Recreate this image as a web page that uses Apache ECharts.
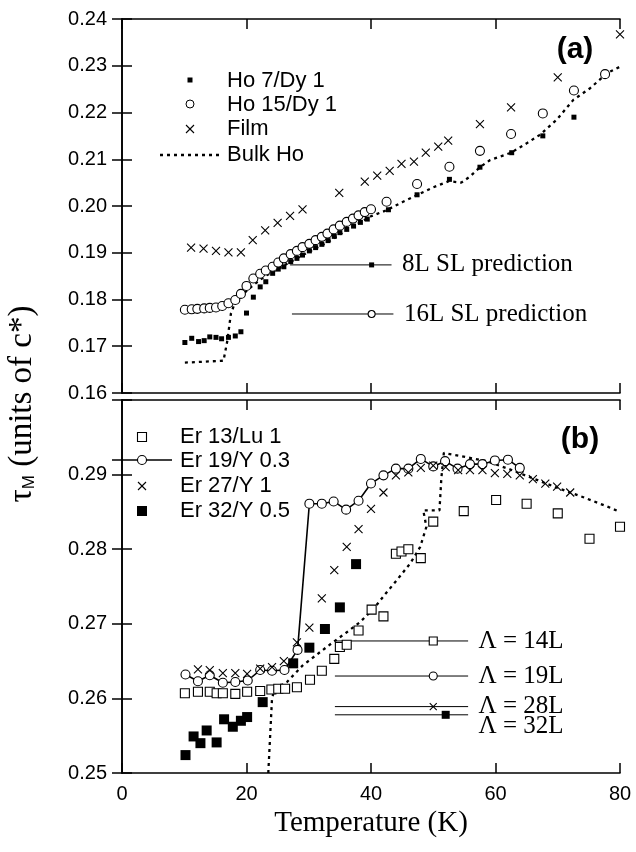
<!DOCTYPE html>
<html><head><meta charset="utf-8">
<script src="https://cdn.jsdelivr.net/npm/echarts@6/dist/echarts.min.js"></script>
<style>html,body{margin:0;padding:0;background:#fff}#c{width:636px;height:852px}</style>
</head><body><div id="c"></div>
<script>
// ---------- Panel (a) data ----------
const ho7X = [10.1,11.2,12.3,13.2,14.1,15.1,16.0,17.1,18.2,19.1,20.0,21.1,22.2,23.1,24.2,25.1,26.0,27.1,28.1,29.0,30.1,31.1,32.1,33.1,34.1,35.0,36.1,37.2,38.3,39.4,42.8,47.4,52.6,57.5,62.6,67.6,72.6];
const ho7Y = [0.1708,0.1717,0.1710,0.1712,0.1720,0.1719,0.1716,0.1719,0.1722,0.1731,0.1771,0.1805,0.1827,0.1838,0.1856,0.1865,0.1870,0.1881,0.1888,0.1895,0.1904,0.1911,0.1918,0.1926,0.1935,0.1943,0.1950,0.1957,0.1965,0.1972,0.1992,0.2024,0.2057,0.2083,0.2114,0.2150,0.2190];
const ho15X = [10.1,11.2,12.1,13.2,14.1,15.1,16.1,17.1,18.2,19.1,20.0,21.1,22.2,23.1,24.2,25.1,26.0,27.1,28.1,29.0,30.1,31.1,32.1,33.0,34.0,35.0,36.1,37.1,38.0,39.0,40.0,42.5,47.4,52.6,57.5,62.5,67.6,72.6,77.6];
const ho15Y = [0.1778,0.1779,0.1780,0.1781,0.1782,0.1783,0.1786,0.1792,0.1799,0.1812,0.1829,0.1845,0.1855,0.1862,0.1870,0.1879,0.1888,0.1897,0.1904,0.1912,0.1919,0.1927,0.1934,0.1941,0.1950,0.1958,0.1966,0.1973,0.1980,0.1987,0.1993,0.2009,0.2047,0.2084,0.2118,0.2154,0.2198,0.2247,0.2282];
const filmX = [11.1,13.1,15.1,17.1,19.1,21.0,23.0,25.0,27.0,29.0,34.9,39.0,41.0,43.0,44.9,46.9,48.8,50.8,52.4,57.5,62.5,70.0,80.0];
const filmY = [0.1911,0.1909,0.1904,0.1901,0.1901,0.1927,0.1948,0.1964,0.1979,0.1993,0.2028,0.2052,0.2065,0.2075,0.2090,0.2095,0.2114,0.2127,0.2140,0.2175,0.2211,0.2275,0.2367];
const bulkHoX = [10.1,16.3,16.9,17.5,18.2,19.5,21,23,25,27,30,33,36,40,42.5,45,47.5,50,52.5,54.5,55.9,57.5,59.1,62.5,65,67.1,69.8,72.5,75.2,77.9,80];
const bulkHoY = [0.1665,0.1669,0.1710,0.1770,0.1795,0.1812,0.1830,0.1850,0.1865,0.1880,0.1902,0.1922,0.1948,0.1978,0.1991,0.2008,0.2024,0.2040,0.2053,0.2050,0.2063,0.2083,0.2098,0.2114,0.2134,0.2152,0.2184,0.2227,0.2252,0.2284,0.2298];
const pred8LX = [27.0,43.3], pred8LY = 0.1874, pred8LMarkX = 40.1;
const pred16LX = [27.3,43.6], pred16LY = 0.1769, pred16LMarkX = 40.1;

// ---------- Panel (b) data ----------
const er13X = [10.1,12.2,14.1,15.2,16.2,18.2,20.1,22.2,24.0,25.1,26.2,28.1,30.2,32.1,34.1,35.0,36.1,38.0,40.1,42.0,44.0,44.9,46.0,48.0,50.0,54.9,60.1,65.0,70.0,75.1,80.0];
const er13Y = [0.2607,0.2609,0.2609,0.2607,0.2607,0.2606,0.2609,0.2610,0.2612,0.2613,0.2613,0.2615,0.2625,0.2637,0.2653,0.2669,0.2672,0.2691,0.2719,0.2710,0.2794,0.2797,0.2800,0.2788,0.2837,0.2851,0.2866,0.2861,0.2848,0.2814,0.2830];
const er19X = [10.2,12.2,14.1,16.2,18.2,20.2,22.2,24.1,26.1,28.2,30.1,32.1,34.0,36.0,38.0,40.0,42.0,44.0,46.0,48.0,50.0,51.9,53.9,55.9,57.9,59.9,62.0,63.9];
const er19Y = [0.2632,0.2623,0.2631,0.2621,0.2622,0.2624,0.2638,0.2637,0.2638,0.2665,0.2861,0.2861,0.2864,0.2853,0.2865,0.2888,0.2899,0.2908,0.2908,0.2921,0.2911,0.2918,0.2908,0.2914,0.2914,0.2919,0.2920,0.2909];
const er27X = [12.2,14.1,16.2,18.2,20.1,22.2,24.1,26.0,28.1,30.1,32.1,34.1,36.1,38.0,40.0,42.0,44.0,46.0,48.0,50.0,52.0,54.0,55.9,57.9,59.9,61.9,63.9,66.0,68.0,69.9,72.0];
const er27Y = [0.2639,0.2638,0.2634,0.2634,0.2633,0.2640,0.2642,0.2650,0.2675,0.2695,0.2734,0.2772,0.2803,0.2827,0.2854,0.2876,0.2899,0.2903,0.2909,0.2912,0.2910,0.2906,0.2906,0.2906,0.2902,0.2901,0.2899,0.2894,0.2888,0.2884,0.2876];
const er32X = [10.2,11.5,12.6,13.6,15.2,16.4,17.8,19.1,20.1,22.6,27.5,30.1,32.6,35.0,37.6];
const er32Y = [0.2524,0.2549,0.2540,0.2557,0.2541,0.2572,0.2562,0.2570,0.2575,0.2595,0.2647,0.2668,0.2693,0.2722,0.2780];
const bulkErX = [23.5,23.8,24.1,24.5,26.5,29,31.8,34,36,38.2,40.4,42.5,44.1,46.3,47.9,48.9,48.4,51.0,51.3,51.7,54.3,58.6,62,66,70,74,78,80];
const bulkErY = [0.2500,0.2550,0.2600,0.2612,0.2622,0.2644,0.2662,0.2676,0.2688,0.2702,0.2720,0.2742,0.2758,0.2781,0.2803,0.2830,0.2852,0.2852,0.2895,0.2929,0.2925,0.2918,0.2908,0.2895,0.2882,0.2870,0.2857,0.2850];
const lambdaLineX = [34.2,55.6];
const lambdaY = [0.2677,0.2630,0.2589,0.2578];
const lambdaMarkX = [50.0,50.0,50.0,52.0];
const lambdaLabels = ['Λ = 14L','Λ = 19L','Λ = 28L','Λ = 32L'];

// ---------- tick labels ----------
const xTickVals = [0,20,40,60,80];
const yTopTicks = [0.16,0.24,0.01];
const yBotTicks = [0.25,0.30,0.01];

const SANS = 'Liberation Sans';
const SERIF = 'Liberation Serif';
const K = '#000';
const zip = (xs, ys) => xs.map((x,i)=>[x, ys[i]]);
const CROSS = 'path://M0,0L10,10M10,0L0,10';

const tickStyle = {inside:true, length:10, lineStyle:{color:K, width:1.5}};
const lineStyleAx = {show:true, lineStyle:{color:K, width:1.6}};
function xAx(g, pos, labels){
  return {gridIndex:g, type:'value', min:xTickVals[0], max:xTickVals[xTickVals.length-1], interval:xTickVals[1]-xTickVals[0], position:pos,
    axisLine:lineStyleAx, axisTick:tickStyle, splitLine:{show:false},
    axisLabel:{show:labels, color:K, fontFamily:SANS, fontSize:20, margin:11},
    name: labels ? 'Temperature (K)' : '', nameLocation:'middle', nameGap:36,
    nameTextStyle:{fontFamily:SERIF, fontSize:29, color:K}};
}
function yAx(g, pos, t, labels){
  return {gridIndex:g, type:'value', min:t[0], max:t[1], interval:t[2], position:pos,
    axisLine:lineStyleAx, axisTick:tickStyle, splitLine:{show:false},
    axisLabel:{show:labels, color:K, fontFamily:SANS, fontSize:20, margin:15,
      formatter:(v)=> (v > t[1]-1e-6 && t[1] > 0.295) ? '' : v.toFixed(2)}};
}

const open = {color:'#fff', borderColor:K, borderWidth:1.1, opacity:1};
const solid = {color:K, opacity:1};
const crossStyle = {color:'none', borderColor:K, borderWidth:1.1, opacity:1};

function sc(name, xs, ys, sym, size, style, ax){
  return {name, type:'scatter', xAxisIndex:ax, yAxisIndex:ax, data:zip(xs,ys), symbol:sym, symbolSize:size, itemStyle:style, z:5};
}
function annot(xs, y, markX, sym, size, style, text, ax, fs, offset){
  return [
    {type:'line', xAxisIndex:ax, yAxisIndex:ax, data:[[xs[0], y],[xs[1], y]], symbol:'none', lineStyle:{color:K, width:1}, z:3},
    {type:'scatter', xAxisIndex:ax, yAxisIndex:ax, data:[[markX, y]], symbol:sym, symbolSize:size, itemStyle:style, z:4},
    {type:'scatter', xAxisIndex:ax, yAxisIndex:ax, data:[[xs[1], y]], symbolSize:1, itemStyle:{color:'rgba(255,255,255,0)', opacity:1}, z:4,
      label:{show:true, position:'right', distance:10, formatter:text, fontFamily:SERIF, fontSize:fs, color:K, opacity:1, offset:offset||[0,0]}}
  ];
}

const series = [
  {type:'line', xAxisIndex:0, yAxisIndex:0, data:zip(bulkHoX,bulkHoY), symbol:'none', lineStyle:{color:K, width:2.3, type:[3,4]}, z:2},
  sc('Ho 7/Dy 1', ho7X, ho7Y, 'rect', 5, solid, 0),
  sc('Ho 15/Dy 1', ho15X, ho15Y, 'circle', 9, open, 0),
  sc('Film', filmX, filmY, CROSS, 8, crossStyle, 0),
  ...annot(pred8LX, pred8LY, pred8LMarkX, 'rect', 5, solid, '8L SL prediction', 0, 25),
  ...annot(pred16LX, pred16LY, pred16LMarkX, 'circle', 7, open, '16L SL prediction', 0, 25),

  {type:'line', xAxisIndex:2, yAxisIndex:2, data:zip(bulkErX,bulkErY), symbol:'none', lineStyle:{color:K, width:2.3, type:[3,4]}, z:2},
  sc('Er 13/Lu 1', er13X, er13Y, 'rect', 9, open, 2),
  {name:'Er 19/Y 0.3', type:'line', xAxisIndex:2, yAxisIndex:2, data:zip(er19X,er19Y), symbol:'circle', symbolSize:9, showAllSymbol:true, itemStyle:open, lineStyle:{color:K, width:1.6}, z:4},
  sc('Er 27/Y 1', er27X, er27Y, CROSS, 8, crossStyle, 2),
  sc('Er 32/Y 0.5', er32X, er32Y, 'rect', 10, solid, 2),
  ...annot(lambdaLineX, lambdaY[0], lambdaMarkX[0], 'rect', 8, open, lambdaLabels[0], 2, 25),
  ...annot(lambdaLineX, lambdaY[1], lambdaMarkX[1], 'circle', 8, open, lambdaLabels[1], 2, 25),
  ...annot(lambdaLineX, lambdaY[2], lambdaMarkX[2], CROSS, 7, crossStyle, lambdaLabels[2], 2, 25),
  ...annot(lambdaLineX, lambdaY[3], lambdaMarkX[3], 'rect', 8, solid, lambdaLabels[3], 2, 25, [0,12]),
];

// legend graphics
function legText(x, y, t){ return {type:'text', x, y, style:{text:t, fontFamily:SANS, fontSize:22, fill:K, verticalAlign:'middle', align:'left'}}; }
function crossG(cx, cy, r){ return {type:'group', children:[
  {type:'line', shape:{x1:cx-r,y1:cy-r,x2:cx+r,y2:cy+r}, style:{stroke:K, lineWidth:1.1}},
  {type:'line', shape:{x1:cx-r,y1:cy+r,x2:cx+r,y2:cy-r}, style:{stroke:K, lineWidth:1.1}}]}; }
const graphic = [
  {type:'rect', shape:{x:187.5,y:77.5,width:5,height:5}, style:{fill:K}},
  legText(227, 81, 'Ho 7/Dy 1'),
  {type:'circle', shape:{cx:190, cy:104, r:4}, style:{fill:'#fff', stroke:K, lineWidth:1}},
  legText(227, 105, 'Ho 15/Dy 1'),
  crossG(190, 129, 4),
  legText(227, 129, 'Film'),
  {type:'line', shape:{x1:160,y1:155,x2:220,y2:155}, style:{stroke:K, lineWidth:2.3, lineDash:[3,4]}},
  legText(227, 155, 'Bulk Ho'),
  {type:'text', x:575, y:50, style:{text:'(a)', fontFamily:SANS, fontWeight:'bold', fontSize:30, fill:K, align:'center', verticalAlign:'middle'}},

  {type:'rect', shape:{x:137.5,y:432.5,width:9,height:9}, style:{fill:'#fff', stroke:K, lineWidth:1.1}},
  legText(180, 437, 'Er 13/Lu 1'),
  {type:'line', shape:{x1:112,y1:460,x2:172,y2:460}, style:{stroke:K, lineWidth:1.6}},
  {type:'circle', shape:{cx:142, cy:460, r:4.5}, style:{fill:'#fff', stroke:K, lineWidth:1.1}},
  legText(180, 461, 'Er 19/Y 0.3'),
  crossG(142, 486, 4),
  legText(180, 486, 'Er 27/Y 1'),
  {type:'rect', shape:{x:137,y:506,width:10,height:10}, style:{fill:K}},
  legText(180, 511, 'Er 32/Y 0.5'),
  {type:'text', x:580, y:440, style:{text:'(b)', fontFamily:SANS, fontWeight:'bold', fontSize:30, fill:K, align:'center', verticalAlign:'middle'}},

  {type:'text', x:22, y:404, rotation:Math.PI/2, style:{
    text:'{t|τ}{s|M}{n| (units of c*)}', align:'center', verticalAlign:'middle',
    rich:{t:{fontFamily:SERIF, fontSize:33, fill:K}, s:{fontFamily:SANS, fontSize:17, fill:K, padding:[14,0,0,0]}, n:{fontFamily:SERIF, fontSize:33, fill:K}}}}
];

const chart = echarts.init(document.getElementById('c'), null, {renderer:'canvas'});
chart.setOption({
  animation:false,
  backgroundColor:'#fff',
  grid:[{left:122, right:16, top:19, height:374}, {left:122, right:16, top:400, height:373}],
  xAxis:[xAx(0,'bottom',false), xAx(0,'top',false), xAx(1,'bottom',true), xAx(1,'top',false)],
  yAxis:[yAx(0,'left',yTopTicks,true), yAx(0,'right',yTopTicks,false), yAx(1,'left',yBotTicks,true), yAx(1,'right',yBotTicks,false)],
  series,
  graphic
});
</script></body></html>
